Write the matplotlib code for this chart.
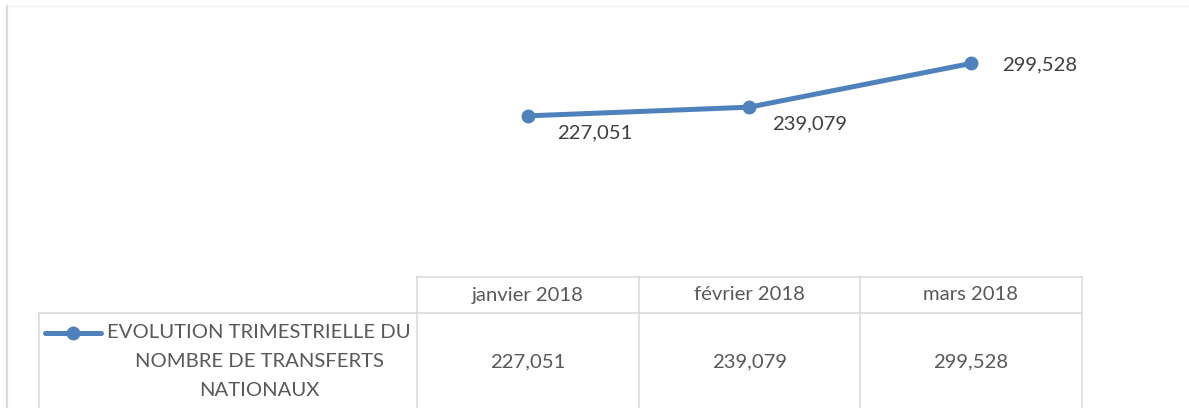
# Line chart with an Excel-style data table underneath
import matplotlib.pyplot as plt
import matplotlib.transforms as mtransforms
from matplotlib.lines import Line2D

plt.rcParams['font.family'] = ['Lato', 'DejaVu Sans']

months = ['janvier 2018', 'février 2018', 'mars 2018']
transfers = [227051, 239079, 299528]
series_name = ['EVOLUTION TRIMESTRIELLE DU', 'NOMBRE DE TRANSFERTS', 'NATIONAUX']
label_offsets = [(67, -17), (60, -17), (69, -1)]   # pixels, Excel-like placement

blue = '#4f81bd'
grid = '#d9d9d9'
txt = '#595959'
fs = 14.6


def fmt(v):
    return f'{v:,}'


W, H = 1189, 408
fig = plt.figure(figsize=(W / 100, H / 100), dpi=100)

# overlay in pixel coordinates for the frame and table
bg = fig.add_axes([0, 0, 1, 1], zorder=0)
bg.set_xlim(0, W)
bg.set_ylim(H, 0)
bg.axis('off')

# plot area sits above the table columns
ax = fig.add_axes([417 / W, 1 - 280 / H, 664.5 / W, 253 / H], zorder=1)
ax.patch.set_alpha(0)
x = list(range(len(months)))
ax.plot(x, transfers, color=blue, lw=3.6, marker='o', ms=9, solid_capstyle='round')
ax.set_xlim(-0.5, len(months) - 0.5)
ax.set_ylim(0, 350000)
ax.axis('off')
for xi, v, (dx, dy) in zip(x, transfers, label_offsets):
    ax.annotate(fmt(v), (xi, v), xytext=(dx, dy), textcoords='offset pixels',
                ha='center', va='center', fontsize=fs, color='#404040')

# chart frame (left and top edges only visible)
bg.plot([7, 7], [6, H], color=grid, lw=1.6)
bg.plot([7, W], [6, 6], color='#f2f2f2', lw=0.8)

# table: columns follow the category axis
tr = mtransforms.blended_transform_factory(ax.transData, bg.transData)
n = len(months)
top, mid = 277, 313
bg.plot([-0.5, n - 0.5], [top, top], color=grid, lw=1.1, transform=tr)
for k in range(n + 1):
    bg.plot([k - 0.5, k - 0.5], [top, H], color=grid, lw=1.1, transform=tr)
right_px = tr.transform((n - 0.5, 0))[0]
left_px = 39
bg.plot([left_px, right_px], [mid, mid], color=grid, lw=1.1)
bg.plot([left_px, left_px], [mid, H], color=grid, lw=1.1)

for xi, m, v in zip(x, months, transfers):
    bg.text(xi, 295, m, transform=tr, ha='center', va='center', fontsize=fs, color=txt)
    bg.text(xi, 361.5, fmt(v), transform=tr, ha='center', va='center', fontsize=fs, color=txt)

# legend key + series name
bg.add_line(Line2D([45, 101], [333, 333], color=blue, lw=3.6, solid_capstyle='round'))
bg.plot([73], [333], marker='o', ms=9, color=blue)
for i, line in enumerate(series_name):
    bg.text(259, 333 + i * 28.5, line, ha='center', va='center', fontsize=fs, color=txt)

fig.savefig('out.png', dpi=100)
